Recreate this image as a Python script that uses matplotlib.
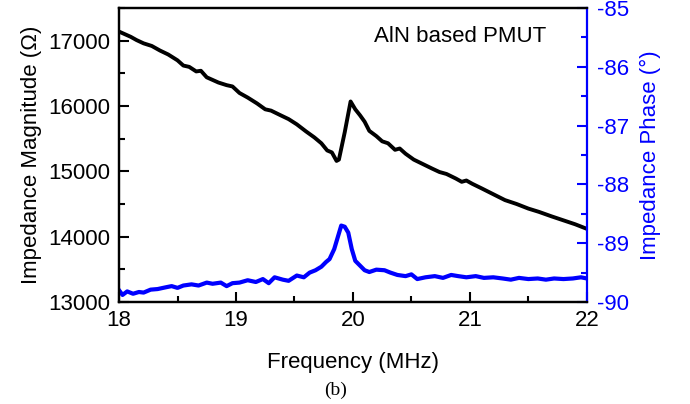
import matplotlib
matplotlib.use("Agg")
import matplotlib.pyplot as plt
from matplotlib.ticker import MultipleLocator

plt.rcParams['font.family'] = ['Liberation Sans', 'DejaVu Sans']
plt.rcParams['axes.unicode_minus'] = False

freq_mag = [18.00, 18.05, 18.10, 18.15, 18.21, 18.28, 18.35, 18.42, 18.50, 18.55,
            18.60, 18.66, 18.70, 18.75, 18.85, 18.92, 18.97, 19.03, 19.10, 19.18,
            19.25, 19.30, 19.38, 19.45, 19.52, 19.60, 19.67, 19.73, 19.78, 19.82,
            19.86, 19.88, 19.93, 19.98, 20.02, 20.06, 20.10, 20.14, 20.20, 20.25,
            20.30, 20.36, 20.40, 20.45, 20.52, 20.60, 20.68, 20.74, 20.80, 20.88,
            20.93, 20.97, 21.02, 21.10, 21.20, 21.30, 21.40, 21.50, 21.59, 21.70,
            21.80, 21.90, 22.00]
magnitude = [17140, 17100, 17060, 17010, 16960, 16920, 16850, 16790, 16700, 16620,
             16600, 16530, 16540, 16440, 16360, 16320, 16300, 16200, 16130, 16040,
             15950, 15930, 15860, 15800, 15720, 15610, 15520, 15430, 15320, 15290,
             15160, 15180, 15600, 16070, 15950, 15860, 15760, 15620, 15540, 15460,
             15430, 15330, 15350, 15270, 15180, 15110, 15040, 14990, 14960, 14890,
             14840, 14860, 14810, 14740, 14650, 14560, 14500, 14430, 14380, 14310,
             14250, 14190, 14120]

freq_phase = [18.00, 18.03, 18.07, 18.12, 18.17, 18.21, 18.27, 18.33, 18.40, 18.45,
              18.50, 18.55, 18.62, 18.68, 18.75, 18.80, 18.87, 18.92, 18.97, 19.03,
              19.10, 19.17, 19.23, 19.28, 19.33, 19.40, 19.45, 19.52, 19.58, 19.63,
              19.68, 19.73, 19.77, 19.80, 19.84, 19.87, 19.90, 19.93, 19.96, 19.99,
              20.02, 20.06, 20.10, 20.14, 20.20, 20.27, 20.32, 20.38, 20.45, 20.50,
              20.55, 20.62, 20.70, 20.77, 20.84, 20.90, 20.97, 21.05, 21.12, 21.20,
              21.28, 21.35, 21.42, 21.50, 21.58, 21.65, 21.72, 21.80, 21.88, 21.95,
              22.00]
phase = [-89.80, -89.88, -89.82, -89.86, -89.83, -89.84, -89.79, -89.78, -89.75, -89.73,
         -89.76, -89.72, -89.70, -89.72, -89.67, -89.69, -89.67, -89.73, -89.68, -89.67,
         -89.63, -89.66, -89.61, -89.68, -89.58, -89.62, -89.64, -89.55, -89.58, -89.50,
         -89.46, -89.40, -89.32, -89.27, -89.10, -88.90, -88.70, -88.72, -88.82, -89.10,
         -89.30, -89.38, -89.46, -89.49, -89.45, -89.46, -89.50, -89.54, -89.56, -89.53,
         -89.61, -89.58, -89.56, -89.59, -89.54, -89.56, -89.58, -89.56, -89.59, -89.58,
         -89.60, -89.62, -89.59, -89.61, -89.60, -89.62, -89.60, -89.61, -89.60, -89.58,
         -89.60]

BLUE = '#0000ff'
fs = 16

fig = plt.figure(figsize=(6.9, 4.04), dpi=100)
ax = fig.add_axes([0.1725, 0.2525, 0.678, 0.7275])
ax2 = ax.twinx()

ax.plot(freq_mag, magnitude, color='black', lw=2.8, zorder=3)
ax2.plot(freq_phase, phase, color=BLUE, lw=3.0)

ax.set_xlim(18, 22)
ax.set_ylim(13000, 17500)
ax2.set_ylim(-90, -85)

ax.xaxis.set_major_locator(MultipleLocator(1))
ax.xaxis.set_minor_locator(MultipleLocator(0.5))
ax.yaxis.set_major_locator(MultipleLocator(1000))
ax.yaxis.set_minor_locator(MultipleLocator(500))
ax2.yaxis.set_major_locator(MultipleLocator(1))
ax2.yaxis.set_minor_locator(MultipleLocator(0.5))

for sp in ['left', 'bottom', 'top']:
    ax.spines[sp].set_linewidth(1.6)
    ax2.spines[sp].set_linewidth(1.6)
ax2.spines['right'].set_color(BLUE)
ax2.spines['right'].set_linewidth(1.6)
ax.spines['right'].set_visible(False)

ax.tick_params(axis='both', which='major', direction='in', length=7, width=1.5,
               labelsize=fs, pad=6, top=False, right=False)
ax.tick_params(axis='both', which='minor', direction='in', length=4.5, width=1.5,
               top=False, right=False)
ax2.tick_params(axis='y', which='major', direction='in', length=7, width=1.5,
                labelsize=fs, pad=7, colors=BLUE)
ax2.tick_params(axis='y', which='minor', direction='in', length=4.5, width=1.5,
                colors=BLUE)

ax.set_xlabel('Frequency (MHz)', fontsize=fs, labelpad=15)
ax.set_ylabel('Impedance Magnitude (Ω)', fontsize=fs, labelpad=5)
ax2.set_ylabel('Impedance Phase (°)', fontsize=fs, color=BLUE, labelpad=8)

ax.text(0.545, 0.905, 'AlN based PMUT', transform=ax.transAxes, fontsize=fs,
        ha='left', va='center')

fig.text(336 / 690, 1 - 390 / 404, '(b)', fontsize=14, family='Liberation Serif',
         ha='center', va='center')

fig.savefig('out.png', dpi=100)
